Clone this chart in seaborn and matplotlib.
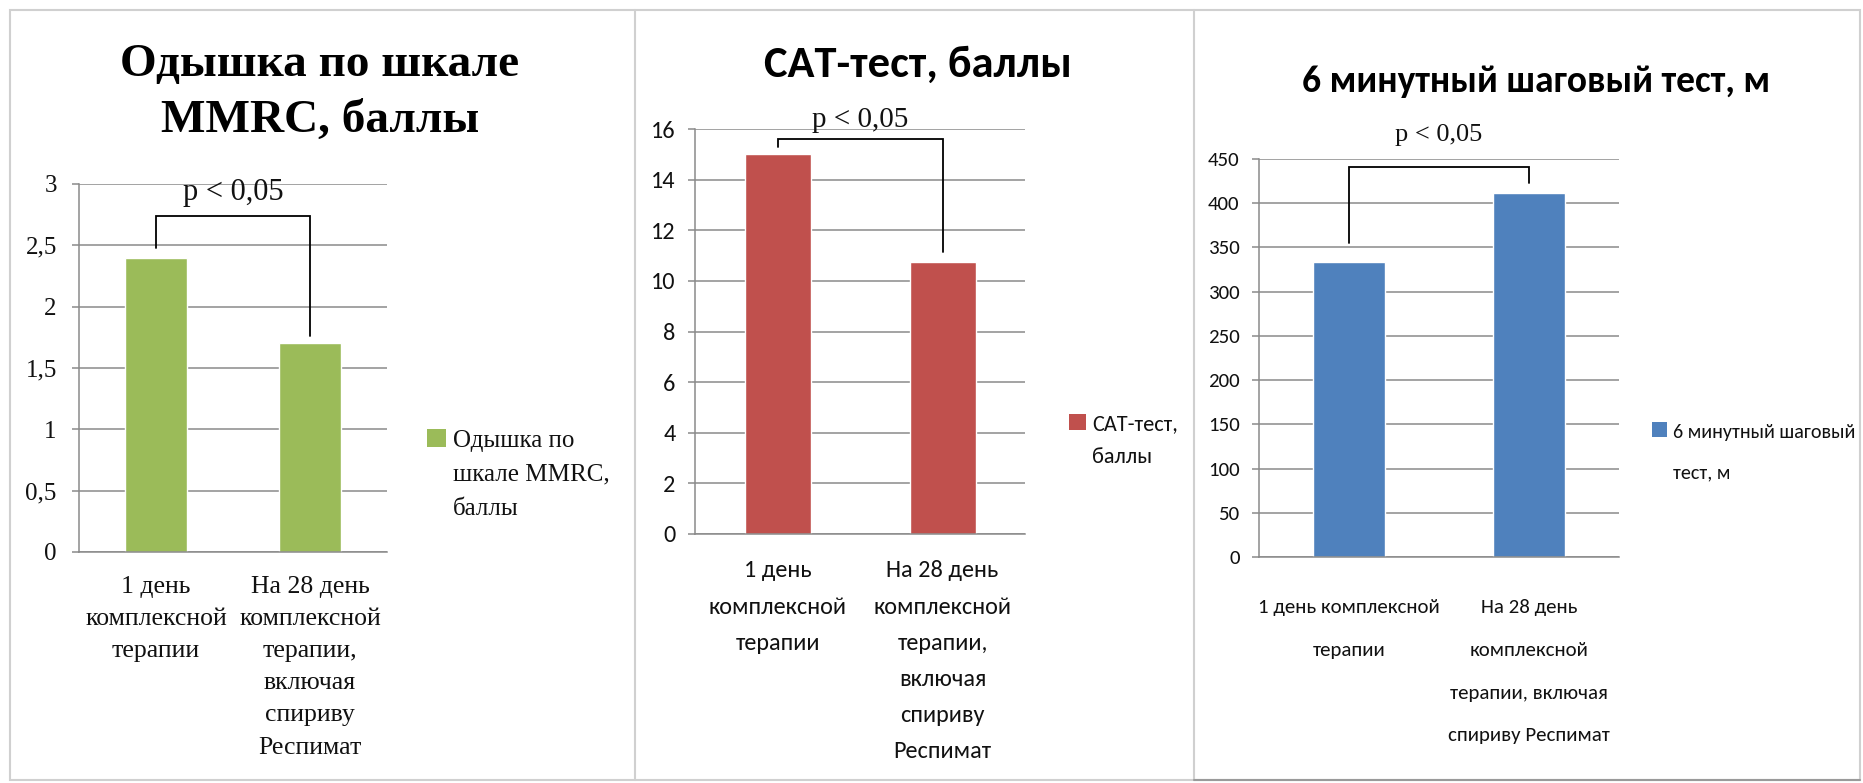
import matplotlib
matplotlib.use("Agg")
import matplotlib.pyplot as plt
import seaborn as sns
import pandas as pd
from matplotlib.patches import Patch, Rectangle
from matplotlib.legend_handler import HandlerPatch
from matplotlib.lines import Line2D
from matplotlib.font_manager import FontProperties

sns.set_theme(style="white")

# ---- data -------------------------------------------------------------
stages = ["День 1", "День 28"]

mmrc_values = [2.4, 1.7]
cat_values = [15.0, 10.75]
walk_values = [333, 412]

mmrc_ticks = [0, 0.5, 1, 1.5, 2, 2.5, 3]
cat_ticks = [0, 2, 4, 6, 8, 10, 12, 14, 16]
walk_ticks = [0, 50, 100, 150, 200, 250, 300, 350, 400, 450]

labels_narrow = ["1 день\nкомплексной\nтерапии",
                 "На 28 день\nкомплексной\nтерапии,\nвключая\nспириву\nРеспимат"]
labels_wide = ["1 день комплексной\nтерапии",
               "На 28 день\nкомплексной\nтерапии, включая\nспириву Респимат"]

titles = ["Одышка по шкале\nMMRC, баллы", "CAT-тест, баллы", "6 минутный шаговый тест, м"]
legend_labels = ["Одышка по\nшкале MMRC,\nбаллы", "CAT-тест,\nбаллы", "6 минутный шаговый\nтест, м"]
p_label = "p < 0,05"

# ---- layout helpers ---------------------------------------------------
W, H = 1863, 783
fig = plt.figure(figsize=(W / 100, H / 100), dpi=100)
fig.patch.set_facecolor("white")


def rect(l, t, r, b):
    return [l / W, 1 - b / H, (r - l) / W, (b - t) / H]


def fx(x):
    return x / W


def fy(y):
    return 1 - y / H


SERIF = "Liberation Serif"
SANS = "Carlito"
GRID = "#8a8a8a"
INK = "#111111"


def fp(family, size, weight="normal"):
    return FontProperties(family=family, size=size, weight=weight)


panels = [
    dict(values=mmrc_values, ticks=mmrc_ticks, xlabels=labels_narrow, title=titles[0],
         legend=legend_labels[0], color="#9BBB59", font=SERIF,
         box=(79, 184, 387, 552), title_xy=(320, 93), title_size=34, title_ls=1.45,
         tick_size=18, ypad=11, xlab_size=18.5, xlab_ls=1.6, xpad=17, leg_size=18, leg_ls=1.7,
         leg_xy=(427, 430), leg_shift=1.48,
         p_y=2.93, p_size=22, bracket=(2.74, 2.48, 1.76)),
    dict(values=cat_values, ticks=cat_ticks, xlabels=labels_narrow, title=titles[1],
         legend=legend_labels[1], color="#C0504D", font=SANS,
         box=(695, 129, 1025, 534), title_xy=(918, 65), title_size=32, title_ls=1.0,
         tick_size=17.5, ypad=9, xlab_size=17.5, xlab_ls=1.89, xpad=19, leg_size=16, leg_ls=1.8,
         leg_xy=(1069, 414), leg_shift=0.85,
         p_y=16.36, p_size=21, bracket=(15.6, 15.29, 11.14)),
    dict(values=walk_values, ticks=walk_ticks, xlabels=labels_wide, title=titles[2],
         legend=legend_labels[2], color="#4F81BD", font=SANS,
         box=(1259, 159, 1619, 557), title_xy=(1536, 82), title_size=27, title_ls=1.0,
         tick_size=15, ypad=9, xlab_size=15, xlab_ls=2.83, xpad=30.5, leg_size=14.5, leg_ls=2.65,
         leg_xy=(1652, 424), leg_shift=1.14,
         p_y=477, p_size=19, bracket=(441, 355, 423)),
]


def square_handler(shift):
    def make(legend, orig_handle, xdescent, ydescent, width, height, fontsize):
        return Rectangle((-xdescent, -ydescent + shift * fontsize), width, height)
    return HandlerPatch(patch_func=make)


for spec in panels:
    ax = fig.add_axes(rect(*spec["box"]))
    df = pd.DataFrame({"stage": stages, "value": spec["values"]})
    sns.barplot(data=df, x="stage", y="value", color=spec["color"], saturation=1,
                width=0.4, ax=ax, errorbar=None)
    ticks = spec["ticks"]
    ax.set_xlim(-0.5, 1.5)
    ax.set_ylim(ticks[0], ticks[-1])
    ax.set_xlabel("")
    ax.set_ylabel("")
    ax.set_facecolor("white")

    # horizontal gridlines and value axis
    ax.set_yticks(ticks)
    ax.set_yticklabels([f"{t:g}".replace(".", ",") for t in ticks])
    ax.yaxis.grid(True, color=GRID, linewidth=1.1)
    ax.xaxis.grid(False)
    ax.set_axisbelow(True)

    # category labels centred under bars, boundary ticks between categories
    ax.set_xticks([0, 1])
    ax.set_xticklabels(spec["xlabels"])
    ax.set_xticks([-0.5, 0.5, 1.5], minor=True)
    ax.tick_params(axis="x", which="major", length=0, pad=spec["xpad"])
    ax.tick_params(axis="x", which="minor", length=7, width=1.1, color=GRID, direction="out")
    ax.tick_params(axis="y", which="major", length=5, width=1.1, color=GRID,
                   direction="out", pad=spec["ypad"], left=True)

    for lab in ax.get_yticklabels():
        lab.set_fontproperties(fp(spec["font"], spec["tick_size"]))
        lab.set_color(INK)
    for lab in ax.get_xticklabels():
        lab.set_fontproperties(fp(spec["font"], spec["xlab_size"]))
        lab.set_linespacing(spec["xlab_ls"])
        lab.set_color(INK)

    for side in ("top", "right"):
        ax.spines[side].set_visible(False)
    for side in ("left", "bottom"):
        ax.spines[side].set_color(GRID)
        ax.spines[side].set_linewidth(1.1)

    # significance bracket between the two bars
    top, leg_left, leg_right = spec["bracket"]
    ax.plot([0, 0, 1, 1], [leg_left, top, top, leg_right], color="black",
            linewidth=1.3, clip_on=False, solid_joinstyle="miter")
    ax.text(0.5, spec["p_y"], p_label, ha="center", va="center",
            fontproperties=fp(SERIF, spec["p_size"]), color=INK, clip_on=False)

    # title
    tx, ty = spec["title_xy"]
    fig.text(fx(tx), fy(ty), spec["title"], ha="center", va="center",
             fontproperties=fp(spec["font"], spec["title_size"], "bold"),
             linespacing=spec["title_ls"], color="black")

    # legend to the right of the plot area
    handle = Patch(facecolor=spec["color"], edgecolor="none")
    lx, ly = spec["leg_xy"]
    ax.legend([handle], [spec["legend"]], loc="upper left",
              bbox_to_anchor=(fx(lx), fy(ly)), bbox_transform=fig.transFigure,
              frameon=False, borderpad=0, borderaxespad=0, handlelength=0.75,
              handleheight=0.75, handletextpad=0.3,
              handler_map={handle: square_handler(spec["leg_shift"])},
              prop=fp(spec["font"], spec["leg_size"]), labelspacing=0)
    for t in ax.get_legend().get_texts():
        t.set_linespacing(spec["leg_ls"])
        t.set_color(INK)

# panel frames
frame = "#d0d0d0"
fig.add_artist(Rectangle((fx(10), fy(780)), fx(1860) - fx(10), fy(10) - fy(780),
                         transform=fig.transFigure, fill=False, edgecolor=frame, linewidth=1.5))
for xsep in (635, 1194):
    fig.add_artist(Line2D([fx(xsep), fx(xsep)], [fy(10), fy(780)],
                          transform=fig.transFigure, color=frame, linewidth=1.5))
fig.add_artist(Line2D([fx(1194), fx(1860)], [fy(780), fy(780)],
                      transform=fig.transFigure, color="#9a9a9a", linewidth=1.5))

fig.savefig("out.png", dpi=100, facecolor="white")
